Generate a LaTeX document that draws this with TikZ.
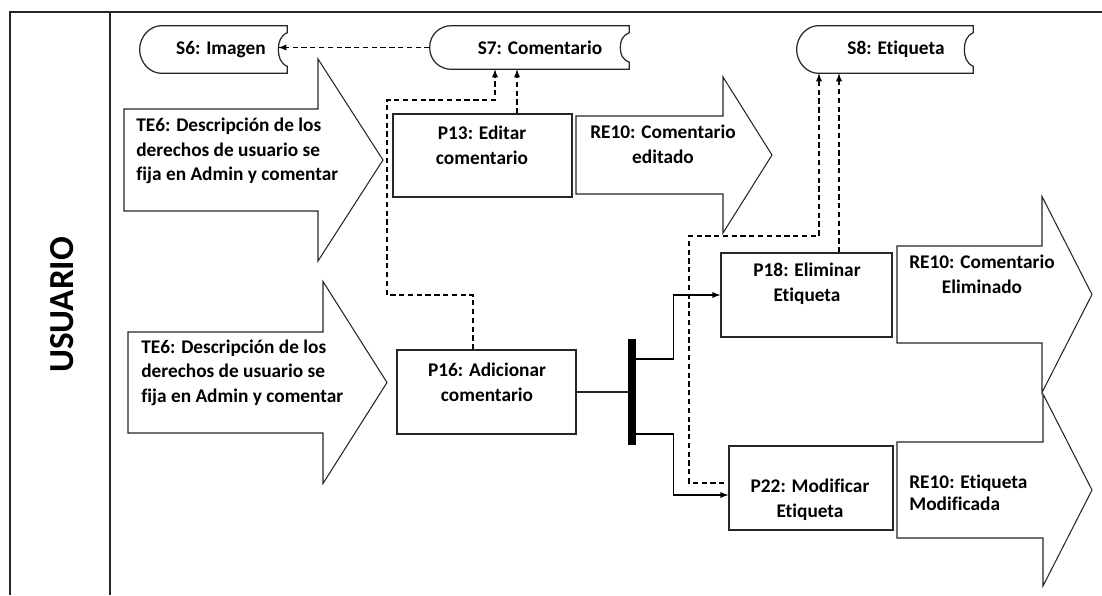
\documentclass[tikz,border=0pt]{standalone}
\usepackage{fontspec}
\setmainfont{Carlito}[Ligatures=NoCommon]
\usetikzlibrary{calc}
% outline of a data store: round on the left, hollow on the right
\newcommand{\storeline}[1]{%
\draw[line] ($(#1.south west)+(22,0)$) .. controls +(-12,0) and +(0,13) .. (#1.west)
  .. controls +(0,-13) and +(-12,0) .. ($(#1.north west)+(22,0)$) -- (#1.north east)
  -- ++(0,7) .. controls +(-7,3) and +(0,-7) .. ($(#1.east)+(-9,0)$)
  .. controls +(0,7) and +(-7,-3) .. ($(#1.south east)+(0,-7)$) -- (#1.south east) -- cycle;}
\begin{document}
\begin{tikzpicture}[x=0.02cm,y=-0.02cm,
  line/.style={line width=0.7pt,draw=black!85},
  proc/.style={draw=black!85,line width=0.7pt,minimum height=1.68cm,inner sep=0pt},
  store/.style={inner sep=0pt,font=\fontsize{11}{14}\selectfont\bfseries},
  txt/.style={inner sep=0pt,align=center,font=\fontsize{11}{14}\selectfont\bfseries},
  dashline/.style={line width=0.6pt,dash pattern=on 3pt off 2pt},
  dasharrow/.style={dashline,-latex},
  solidarrow/.style={line width=0.6pt,-latex}]
\useasboundingbox (0,0) rectangle (1102,595);
% Draw the lane
\draw[line] (10,595) -- (10,12) -- (1102,12);
\draw[line] (110,12) -- (110,595);
\node[rotate=90,inner sep=0pt,font=\fontsize{20}{24}\selectfont\bfseries] (lane) at (62,305) {USUARIO};
% big arrows -- left/right/tip/middle/body/head
\foreach \l/\r/\t/\m/\b/\h in {124/318/383/160/51/101, 128/323/387/382.5/50.5/101,
    576/723/772/155/39/78, 897/1042/1092/294.5/48.5/98, 897/1043/1092/490/48/96} {
\draw[line,line width=0.6pt,fill=white] (\l,\m-\b) -- (\r,\m-\b) -- (\r,\m-\h) -- (\t,\m)
  -- (\r,\m+\h) -- (\r,\m+\b) -- (\l,\m+\b) -- cycle;
}
\node[txt,align=left,anchor=west] (te6a) at (136,151) {TE6: Descripción de los\\derechos de usuario se\\fija en Admin y comentar};
\node[txt,align=left,anchor=west] (te6b) at (141,372.5) {TE6: Descripción de los\\derechos de usuario se\\fija en Admin y comentar};
\node[txt] (re10a) at (663,144) {RE10: Comentario\\editado};
\node[txt] (re10b) at (982,274) {RE10: Comentario\\Eliminado};
\node[txt,align=left,anchor=west,font=\fontsize{11}{12.6}\selectfont\bfseries] (re10c) at (909,493) {RE10: Etiqueta\\Modificada};
% the data stores
\node[store,minimum width=2.94cm,minimum height=0.94cm] (s6) at (213.5,49.5) {\hspace*{0.3cm}S6: Imagen};
\node[store,minimum width=3.98cm,minimum height=0.86cm] (s7) at (529.5,47.5) {\hspace*{0.42cm}S7: Comentario};
\node[store,minimum width=3.52cm,minimum height=0.94cm] (s8) at (885,49.5) {\hspace*{0.44cm}S8: Etiqueta};
\storeline{s6}
\storeline{s7}
\storeline{s8}
% the processes
\node[proc,minimum width=3.58cm,minimum height=1.66cm] (p13) at (482.5,155.5) {};
\node[txt] (p13t) at (482,145) {P13: Editar\\comentario};
\node[proc,minimum width=3.58cm] (p16) at (486.5,392) {};
\node[txt] (p16t) at (487,382.5) {P16: Adicionar\\comentario};
\node[proc,minimum width=3.42cm] (p18) at (806.5,295) {};
\node[txt] (p18t) at (807,284) {P18: Eliminar\\Etiqueta};
\node[proc,minimum width=3.28cm] (p22) at (811,488) {};
\node[txt] (p22t) at (810,499.5) {P22: Modificar\\Etiqueta};
% the fork
\node[fill=black,minimum width=0.16cm,minimum height=2.12cm,inner sep=0pt] (fork) at (632,392) {};
\draw[line,line width=0.6pt] (p16) -- (fork);
\coordinate (f1) at ($(fork.east)+(0,-33)$);
\coordinate (f2) at ($(fork.east)+(0,42)$);
\draw[solidarrow] (f1) -- ++(37,0) |- (p18.west);
\draw[solidarrow] (f2) -- ++(37,0) |- ($(p22.west)+(0,7)$);
% dashed links to the stores
\draw[dasharrow] (s7.west) -- ($(s7.west -| s6.east)+(-9,0)$);
\coordinate (k13) at ($(p13.north)+(34.5,0)$);
\draw[dasharrow] (k13) -- (k13 |- s7.south);
\coordinate (k16) at ($(p16.north)+(-13.5,0)$);
\coordinate (s7in) at ($(s7.south)+(-34.5,0)$);
\draw[dasharrow] (k16) |- (387,295) -- (387,100) -| (s7in);
\coordinate (k18) at ($(p18.north)+(32.5,0)$);
\draw[dasharrow] (k18) -- (k18 |- s8.south);
\coordinate (k22) at ($(p22.west)+(-4,-5)$);
\coordinate (s8in) at ($(s8.south)+(-66,0)$);
\draw[dasharrow] (k22) -| (689,236) -| (s8in);
\end{tikzpicture}
\end{document}
